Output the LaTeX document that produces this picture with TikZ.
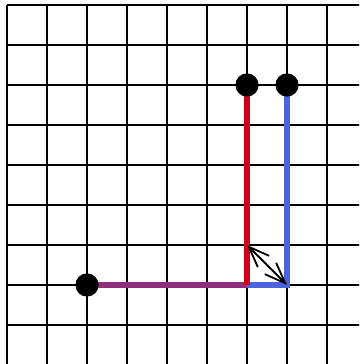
\documentclass[tikz,border=0pt]{standalone}
\usetikzlibrary{arrows.meta}
\definecolor{pathred}{HTML}{D0021B}
\definecolor{pathblue}{HTML}{4A64E0}
\definecolor{pathpurple}{HTML}{8E2F7C}
\tikzset{
  gridline/.style={line width=1.4pt, black},
  thick path/.style={line width=4.3pt},
  dot/.style={circle, fill=black, minimum size=0.58cm, inner sep=0pt},
  barb/.style={Straight Barb[length=5.2mm,width=4mm]},
  vecarrow/.style={line width=1.3pt, {Straight Barb[length=5.2mm,width=4mm]}-{Straight Barb[length=5.2mm,width=4mm]}}
}
\begin{document}
\begin{tikzpicture}[x=1cm,y=1cm]
\useasboundingbox (-0.175,0.025) rectangle (8.8,9.125);
\clip (-0.175,0.025) rectangle (8.8,9.125);
\foreach \i in {0,...,9} {
  \draw[gridline] (\i,0) -- (\i,9);
  \draw[gridline] (0,\i) -- (9,\i);
}
\coordinate (s) at (2,2);
\coordinate (r) at (6,7);
\coordinate (b) at (7,7);
\coordinate (c) at (6,2);
\coordinate (d) at (7,2);
\coordinate (m) at (6,3);
\draw[thick path, pathblue] (c) -- (d) -- (b);
\draw[thick path, pathpurple] (s) -- (c);
\draw[thick path, pathred] (c) -- (r);
\node[dot] (start) at (s) {};
\node[dot] (redend) at (r) {};
\node[dot] (blueend) at (b) {};
\draw[vecarrow] (m) -- (d);
\end{tikzpicture}
\end{document}
